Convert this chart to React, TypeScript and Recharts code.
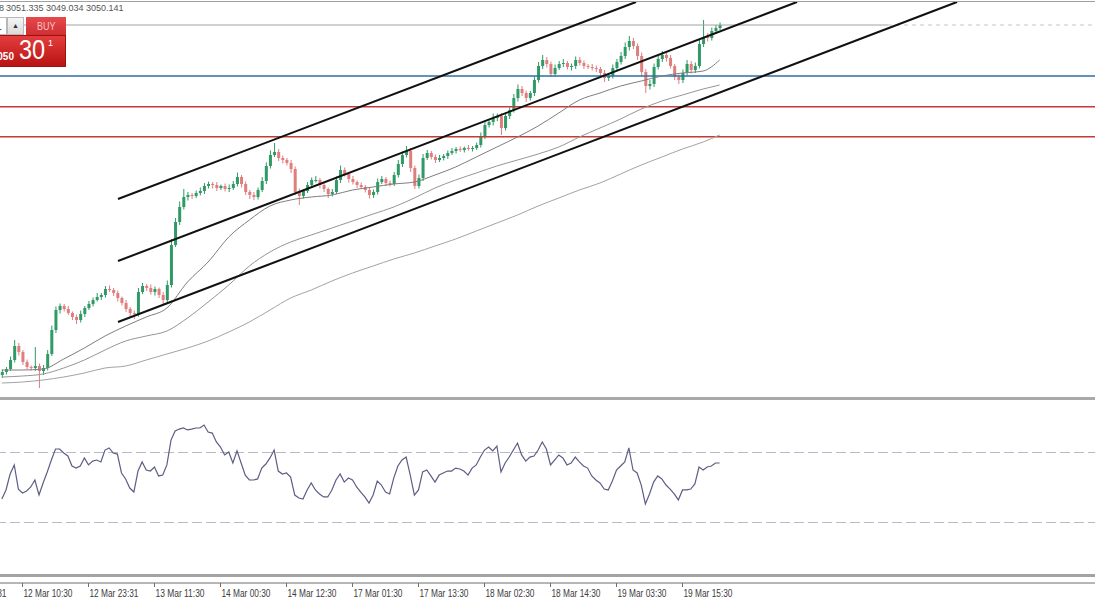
import React from 'react';
import { ComposedChart, Line, Bar, XAxis, YAxis, ReferenceLine } from 'recharts';

// ---- price data (XAUUSD M30 style) ----
const firstOpen = 2910.0;
const closes = [
  2911.2, 2912.4, 2916.0, 2921.6, 2919.2, 2915.2, 2913.2, 2912.8, 2913.6, 2911.6,
  2912.8, 2918.4, 2928.0, 2936.0, 2937.6, 2936.4, 2934.8, 2933.2, 2932.0, 2934.4,
  2936.8, 2938.4, 2940.0, 2941.2, 2942.0, 2944.4, 2944.0, 2942.8, 2940.8, 2938.8,
  2936.4, 2934.8, 2934.4, 2943.2, 2945.6, 2944.8, 2943.2, 2944.4, 2942.0, 2940.0,
  2946.0, 2962.0, 2971.2, 2977.2, 2981.2, 2982.0, 2981.6, 2982.8, 2983.6, 2985.6,
  2986.4, 2986.0, 2984.8, 2985.6, 2984.4, 2984.8, 2986.4, 2989.2, 2986.4, 2983.2,
  2982.0, 2981.2, 2984.0, 2987.6, 2993.6, 2998.0, 2999.2, 2996.8, 2996.0, 2994.8,
  2992.4, 2983.2, 2981.6, 2983.6, 2986.0, 2988.0, 2988.0, 2986.0, 2984.4, 2982.4,
  2983.2, 2988.0, 2992.0, 2990.4, 2988.4, 2987.2, 2986.0, 2985.2, 2984.0, 2982.0,
  2983.2, 2987.2, 2988.4, 2986.8, 2986.4, 2990.0, 2994.4, 2998.0, 2999.6, 2992.8,
  2985.6, 2988.8, 2996.8, 2998.8, 2997.2, 2996.0, 2996.8, 2997.6, 2998.8, 2999.6,
  3000.4, 3000.0, 3000.8, 3000.4, 3000.8, 3002.0, 3005.6, 3010.0, 3011.2, 3012.8,
  3013.6, 3008.8, 3013.6, 3016.0, 3020.8, 3024.4, 3022.8, 3020.8, 3022.8, 3028.0,
  3033.6, 3036.0, 3034.4, 3030.4, 3032.8, 3034.4, 3034.8, 3033.2, 3033.6, 3036.0,
  3034.8, 3033.6, 3033.2, 3032.8, 3032.4, 3030.8, 3028.8, 3029.6, 3032.8, 3035.2,
  3037.6, 3041.2, 3043.6, 3041.6, 3037.6, 3031.2, 3025.6, 3026.4, 3033.2, 3036.4,
  3038.0, 3036.8, 3033.6, 3029.2, 3028.0, 3030.8, 3034.4, 3032.0, 3033.6, 3042.4,
  3045.2, 3044.8, 3047.6, 3048.8, 3050.0,
];
const highWicks = [
  1.0, 0.8, 1.4, 2.4, 1.2, 0.8, 1.0, 0.6, 7.6, 1.0,
  1.2, 1.6, 1.8, 1.4, 1.0, 0.8, 1.2, 0.6, 1.0, 1.4,
  0.8, 1.2, 1.0, 1.6, 0.8, 1.2, 1.4, 0.8, 1.0, 0.6,
  1.2, 0.8, 1.0, 1.6, 1.2, 0.8, 1.4, 1.0, 0.6, 1.2,
  1.8, 2.4, 1.6, 2.2, 3.2, 1.2, 0.8, 1.0, 1.4, 1.2,
  1.0, 0.8, 1.2, 0.6, 1.0, 1.4, 1.2, 1.8, 0.8, 1.0,
  0.8, 1.2, 1.0, 1.6, 1.4, 1.8, 3.6, 1.2, 1.0, 0.8,
  1.2, 1.0, 1.4, 0.8, 1.2, 1.0, 1.6, 0.8, 1.0, 0.6,
  1.2, 1.4, 1.8, 1.0, 0.8, 1.2, 0.6, 1.0, 0.8, 1.2,
  1.0, 1.4, 1.2, 0.8, 1.0, 1.2, 1.6, 1.4, 2.0, 1.2,
  1.0, 1.4, 1.6, 1.2, 0.8, 1.0, 1.2, 0.8, 1.0, 1.2,
  0.8, 1.0, 0.6, 1.2, 0.8, 1.0, 1.4, 1.6, 1.2, 1.8,
  1.0, 1.2, 1.4, 1.0, 1.6, 1.8, 1.2, 1.0, 0.8, 1.4,
  1.6, 2.0, 1.2, 1.0, 1.4, 1.2, 1.6, 0.8, 1.0, 1.4,
  1.2, 1.0, 0.8, 1.2, 1.0, 0.8, 1.2, 1.0, 1.4, 1.2,
  1.6, 1.8, 2.0, 1.2, 1.0, 1.4, 1.2, 1.6, 1.4, 1.2,
  1.6, 1.0, 1.2, 0.8, 1.0, 1.4, 1.6, 1.2, 1.4, 2.0,
  6.8, 1.6, 1.4, 1.2, 1.0,
];
const lowWicks = [
  1.2, 1.0, 0.8, 1.0, 1.4, 1.2, 0.8, 1.0, 1.2, 6.8,
  1.6, 1.0, 0.8, 1.2, 1.4, 1.0, 0.8, 1.2, 1.6, 1.0,
  1.2, 0.8, 1.0, 0.6, 1.2, 1.0, 0.8, 1.2, 1.4, 1.0,
  1.2, 1.4, 2.0, 1.0, 0.8, 1.2, 1.0, 1.4, 1.2, 1.6,
  1.2, 1.0, 0.8, 1.2, 1.0, 1.4, 1.2, 0.8, 1.0, 1.2,
  1.0, 1.4, 1.2, 0.8, 1.0, 1.2, 0.8, 1.0, 1.4, 1.2,
  1.6, 1.2, 1.0, 0.8, 1.2, 1.0, 0.8, 1.2, 1.4, 1.0,
  1.6, 1.2, 3.6, 1.0, 0.8, 1.2, 1.0, 1.4, 1.2, 1.6,
  1.0, 0.8, 1.2, 1.0, 1.4, 1.0, 1.2, 0.8, 1.0, 1.4,
  1.2, 1.0, 0.8, 1.2, 1.0, 0.8, 1.0, 1.2, 1.0, 1.6,
  1.2, 1.0, 1.2, 0.8, 1.0, 1.2, 0.8, 1.0, 1.2, 0.8,
  1.0, 0.8, 1.0, 0.6, 1.0, 0.8, 1.0, 1.2, 1.0, 1.4,
  1.2, 2.8, 1.0, 1.2, 1.0, 1.4, 1.2, 1.6, 1.0, 1.2,
  1.0, 1.2, 1.4, 1.2, 1.0, 0.8, 1.2, 1.0, 1.4, 1.2,
  1.0, 1.2, 0.8, 1.0, 1.2, 1.4, 1.6, 1.2, 1.0, 1.2,
  1.0, 1.2, 1.4, 1.2, 1.6, 1.8, 2.8, 1.4, 1.2, 1.0,
  1.2, 1.4, 1.0, 1.2, 1.6, 1.2, 1.0, 1.4, 1.2, 1.0,
  1.2, 1.4, 1.0, 1.2, 0.8,
];

// ---- moving averages, read every 5 bars ----
const maBars = [0, 5, 10, 15, 20, 25, 30, 35, 40, 45, 50, 55, 60, 65, 70, 75, 80, 85, 90, 95, 100, 105, 110, 115, 120, 125, 130, 135, 140, 145, 150, 155, 160, 165, 170, 174];
const maFast = [2912.0, 2912.0, 2912.4, 2916.4, 2920.8, 2925.6, 2929.6, 2933.2, 2936.8, 2947.2, 2955.2, 2965.2, 2972.0, 2977.6, 2980.0, 2981.2, 2982.0, 2984.0, 2985.2, 2986.4, 2987.2, 2990.0, 2993.2, 2997.2, 3001.2, 3005.2, 3009.6, 3014.8, 3020.0, 3022.8, 3025.6, 3027.6, 3029.6, 3030.8, 3031.6, 3036.0];
const maMid = [2909.2, 2909.6, 2910.4, 2912.8, 2916.0, 2920.0, 2923.6, 2925.6, 2927.6, 2932.8, 2939.2, 2946.0, 2953.6, 2959.2, 2963.2, 2966.0, 2968.8, 2971.6, 2974.4, 2977.2, 2980.8, 2984.8, 2988.0, 2990.8, 2993.6, 2996.0, 2998.4, 3001.2, 3005.2, 3008.8, 3012.4, 3016.4, 3019.6, 3022.0, 3024.4, 3026.0];
const maSlow = [2906.8, 2907.2, 2908.0, 2909.2, 2910.8, 2912.8, 2913.6, 2916.0, 2918.4, 2920.8, 2923.6, 2927.2, 2931.2, 2936.0, 2940.8, 2944.0, 2947.6, 2950.8, 2953.6, 2956.4, 2958.8, 2961.6, 2964.4, 2967.6, 2970.8, 2974.0, 2977.6, 2980.8, 2984.0, 2986.8, 2990.4, 2994.0, 2997.2, 3000.4, 3003.2, 3006.0];

// ---- RSI ----
const rsiValues = [
  43.4, 48.6, 57.7, 62.9, 49.1, 46.9, 48.0, 50.3, 54.3, 45.7,
  52.6, 58.9, 65.7, 72.0, 72.0, 69.7, 68.0, 62.3, 61.1, 62.3,
  66.9, 62.9, 65.1, 65.7, 64.6, 71.4, 72.6, 69.7, 69.1, 58.3,
  54.9, 49.7, 47.4, 59.4, 64.6, 60.0, 59.4, 61.7, 56.6, 57.1,
  62.9, 77.1, 82.3, 83.4, 84.0, 82.9, 83.4, 84.0, 84.0, 85.7,
  81.7, 81.1, 76.0, 73.1, 68.6, 70.3, 64.0, 70.9, 64.0, 57.1,
  54.3, 54.3, 54.9, 61.1, 63.4, 66.9, 71.4, 59.4, 57.7, 58.3,
  56.0, 45.7, 44.0, 43.4, 48.6, 52.6, 48.6, 46.3, 44.6, 44.6,
  48.6, 54.3, 57.7, 53.1, 55.4, 54.3, 50.3, 47.4, 44.6, 41.1,
  45.7, 53.7, 51.4, 47.4, 46.3, 55.4, 62.3, 65.7, 67.4, 57.1,
  45.7, 48.6, 58.9, 60.0, 56.6, 53.1, 57.1, 58.3, 59.4, 59.4,
  61.1, 60.6, 59.4, 57.1, 61.1, 62.9, 67.4, 71.4, 73.1, 70.9,
  73.7, 58.9, 64.0, 67.4, 71.4, 75.4, 68.6, 65.1, 67.4, 68.0,
  71.4, 76.0, 72.0, 62.9, 65.7, 68.6, 66.9, 62.9, 64.0, 67.4,
  64.6, 62.3, 61.1, 56.6, 54.3, 52.6, 49.1, 48.6, 53.7, 60.0,
  62.3, 64.6, 72.6, 60.0, 58.3, 51.4, 40.6, 46.3, 53.1, 56.6,
  54.9, 51.4, 49.1, 46.3, 42.9, 48.6, 48.6, 49.1, 52.0, 61.7,
  60.0, 61.7, 62.3, 64.0, 64.0,
];
const rsiLevels = [70, 30];

// ---- axis ticks ----
const tickBars = [-11, 5, 21, 37, 53, 69, 85, 101, 117, 133, 149, 165];
const tickLabels = ['11 Mar 21:31', '12 Mar 10:30', '12 Mar 23:31', '13 Mar 11:30', '14 Mar 00:30', '14 Mar 12:30', '17 Mar 01:30', '17 Mar 13:30', '18 Mar 02:30', '18 Mar 14:30', '19 Mar 03:30', '19 Mar 15:30'];

// ---- levels & trend channel (bar index, price) ----
const bidPrice = 3050.0;
const bidSolidEnd = 214.8;
const blueLevel = 3029.6;
const redLevels = [3017.3, 3005.3];
const channelLines = [
  [{ x: 28.15, y: 2980.4 }, { x: 153.73, y: 3059.2 }],
  [{ x: 28.15, y: 2955.6 }, { x: 192.76, y: 3059.2 }],
  [{ x: 28.15, y: 2931.2 }, { x: 231.55, y: 3059.2 }],
];

const xDomain: [number, number] = [-15, 265];
const priceDomain: [number, number] = [2901.2, 3060];

const data = closes.map((c, i) => {
  const o = i === 0 ? firstOpen : closes[i - 1];
  const hi = Math.max(o, c) + highWicks[i];
  const lo = Math.min(o, c) - lowWicks[i];
  return { i, o, c, range: [lo, hi], rsi: rsiValues[i] };
});

const maFastData = maBars.map((b, k) => ({ i: b, v: maFast[k] }));
const maMidData = maBars.map((b, k) => ({ i: b, v: maMid[k] }));
const maSlowData = maBars.map((b, k) => ({ i: b, v: maSlow[k] }));

const BULL = '#2f9a66';
const BEAR = '#e07d7d';

const Candle = (props: any) => {
  let { x, y, width, height, payload } = props;
  if (!payload || height == null) return null;
  if (height < 0) {
    y = y + height;
    height = -height;
  }
  const [lo, hi] = payload.range;
  const per = hi - lo > 0 ? height / (hi - lo) : 0;
  const yOf = (p: number) => y + (hi - p) * per;
  const up = payload.c >= payload.o;
  const col = up ? BULL : BEAR;
  const top = yOf(Math.max(payload.o, payload.c));
  const bot = yOf(Math.min(payload.o, payload.c));
  const cx = x + width / 2;
  return (
    <g>
      <line x1={cx} x2={cx} y1={y} y2={y + height} stroke={col} strokeWidth={1} />
      <rect x={x} y={top} width={width} height={Math.max(1, bot - top)} fill={col} />
    </g>
  );
};

const AxisTick = (props: any) => {
  const { x, y, payload } = props;
  const k = tickBars.indexOf(payload.value);
  const label = k >= 0 ? tickLabels[k] : '';
  return (
    <text
      x={x + 1}
      y={y + 10}
      fontSize={10}
      fontFamily="'Liberation Sans', Arial, sans-serif"
      fill="#3c3c3c"
      textLength={49}
      lengthAdjust="spacingAndGlyphs"
    >
      {label}
    </text>
  );
};

const CHART_W = 1155;
const SHIFT = -60;

export default function App() {
  return (
    <div
      style={{
        position: 'absolute',
        left: 0,
        top: 0,
        width: 1095,
        height: 600,
        overflow: 'hidden',
        background: '#ffffff',
        fontFamily: "'Liberation Sans', Arial, sans-serif",
      }}
    >
      {/* main price panel */}
      <div style={{ position: 'absolute', left: SHIFT, top: 0 }}>
        <ComposedChart width={CHART_W} height={397} data={data} margin={{ top: 0, right: 0, bottom: 0, left: 0 }}>
          <XAxis dataKey="i" type="number" domain={xDomain} allowDataOverflow hide />
          <YAxis type="number" domain={priceDomain} allowDataOverflow hide />
          <ReferenceLine segment={[{ x: xDomain[0], y: bidPrice }, { x: bidSolidEnd, y: bidPrice }]} stroke="#a2a2a2" strokeWidth={1} />
          <ReferenceLine segment={[{ x: bidSolidEnd, y: bidPrice }, { x: xDomain[1], y: bidPrice }]} stroke="#c4c4c4" strokeWidth={1} strokeDasharray="4 4" />
          <ReferenceLine y={blueLevel} stroke="#2f6fa3" strokeWidth={1.6} />
          {redLevels.map((v) => (
            <ReferenceLine key={v} y={v} stroke="#c23b36" strokeWidth={1.4} />
          ))}
          <Line data={maSlowData} dataKey="v" type="monotone" stroke="#a3a3a3" strokeWidth={1} dot={false} activeDot={false} isAnimationActive={false} />
          <Line data={maMidData} dataKey="v" type="monotone" stroke="#959595" strokeWidth={1} dot={false} activeDot={false} isAnimationActive={false} />
          <Line data={maFastData} dataKey="v" type="monotone" stroke="#7e7e7e" strokeWidth={1} dot={false} activeDot={false} isAnimationActive={false} />
          <Bar dataKey="range" barSize={3} shape={Candle} isAnimationActive={false} />
          {channelLines.map((seg, k) => (
            <ReferenceLine key={k} segment={seg} stroke="#111111" strokeWidth={2} ifOverflow="visible" />
          ))}
        </ComposedChart>
      </div>

      {/* RSI panel */}
      <div style={{ position: 'absolute', left: SHIFT, top: 400 }}>
        <ComposedChart width={CHART_W} height={175} data={data} margin={{ top: 0, right: 0, bottom: 0, left: 0 }}>
          <XAxis dataKey="i" type="number" domain={xDomain} allowDataOverflow hide />
          <YAxis type="number" domain={[0, 100]} allowDataOverflow hide />
          {rsiLevels.map((v) => (
            <ReferenceLine key={v} y={v} stroke="#b9b9c9" strokeWidth={1} strokeDasharray="10 4" />
          ))}
          <Line dataKey="rsi" type="linear" stroke="#5d5d85" strokeWidth={1.2} dot={false} activeDot={false} isAnimationActive={false} />
        </ComposedChart>
      </div>

      {/* time axis */}
      <div style={{ position: 'absolute', left: SHIFT, top: 577 }}>
        <ComposedChart width={CHART_W} height={23} data={data} margin={{ top: 0, right: 0, bottom: 0, left: 0 }}>
          <XAxis
            dataKey="i"
            type="number"
            domain={xDomain}
            allowDataOverflow
            ticks={tickBars}
            interval={0}
            height={17}
            tickSize={4}
            tickMargin={0}
            stroke="#6e6e6e"
            tick={AxisTick}
          />
          <YAxis type="number" domain={[0, 100]} hide />
          <Line dataKey="rsi" stroke="none" dot={false} activeDot={false} isAnimationActive={false} />
        </ComposedChart>
      </div>

      {/* window frame / separators */}
      <div style={{ position: 'absolute', left: 0, top: 1, width: 1095, height: 1, background: '#a0a0a0' }} />
      <div style={{ position: 'absolute', left: 0, top: 397, width: 1095, height: 3, background: '#a9a9a9' }} />
      <div style={{ position: 'absolute', left: 0, top: 574, width: 1095, height: 3, background: '#a3a3a3' }} />

      {/* header text */}
      <div style={{ position: 'absolute', left: -60, top: 3, width: 64, textAlign: 'right', fontSize: 9, lineHeight: '10px', color: '#555', whiteSpace: 'nowrap' }}>3049.978</div>
      <div style={{ position: 'absolute', left: 6, top: 3, fontSize: 9, lineHeight: '10px', color: '#555', whiteSpace: 'nowrap' }}>3051.335 3049.034 3050.141</div>

      {/* one-click trading widget */}
      <div style={{ position: 'absolute', left: -40, top: 17, width: 47, height: 18, boxSizing: 'border-box', background: '#fff', border: '1px solid #b8b8b8', fontSize: 11, lineHeight: '16px', textAlign: 'right', paddingRight: 4, color: '#222' }}>0.01</div>
      <div style={{ position: 'absolute', left: 7, top: 17, width: 17, height: 18, boxSizing: 'border-box', background: 'linear-gradient(#f6f6f6,#dadada)', border: '1px solid #b8b8b8', fontSize: 7, lineHeight: '16px', textAlign: 'center', color: '#333' }}>▲</div>
      <div style={{ position: 'absolute', left: 26, top: 17, width: 40, height: 19, background: 'linear-gradient(#e6494c,#cf2d31)', color: '#f7c4c4', fontSize: 11, lineHeight: '19px', textAlign: 'center' }}>
        <span style={{ display: 'inline-block', transform: 'scaleX(0.82)' }}>BUY</span>
      </div>
      <div style={{ position: 'absolute', left: -60, top: 35, width: 126, height: 32, boxSizing: 'border-box', background: 'linear-gradient(#e33d3d,#b91414)', border: '1px solid #9e1010' }} />
      <div style={{ position: 'absolute', left: -20, top: 52, width: 34, textAlign: 'right', fontSize: 10, lineHeight: '10px', fontWeight: 'bold', color: '#fff' }}>3050</div>
      <div style={{ position: 'absolute', left: 19, top: 36, fontSize: 28, lineHeight: '28px', color: '#fff', transformOrigin: 'left top', transform: 'scaleX(0.84)' }}>30</div>
      <div style={{ position: 'absolute', left: 48, top: 39, fontSize: 9, lineHeight: '9px', color: '#fff' }}>1</div>
    </div>
  );
}
